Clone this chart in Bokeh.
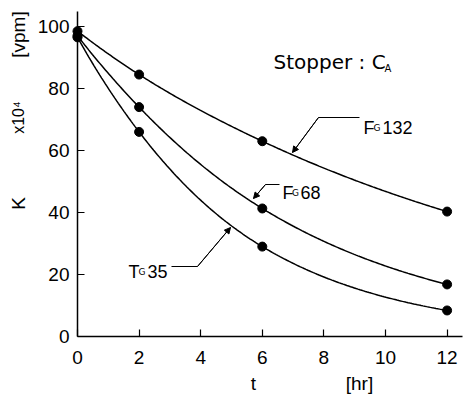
import numpy as np
from bokeh.plotting import figure
from bokeh.models import Label, Arrow, NormalHead, FixedTicker
from bokeh.embed import file_html
from bokeh.resources import INLINE

# ---- data ----
t_hr = [0, 2, 6, 12]
fg132 = [98.5, 84.5, 63.0, 40.3]
fg68 = [97.0, 74.0, 41.3, 16.8]
tg35 = [96.5, 66.0, 29.0, 8.4]
x_ticks = [0, 2, 4, 6, 8, 10, 12]
y_ticks = [0, 20, 40, 60, 80, 100]


def pchip(xk, yk, xs):
    xk = np.asarray(xk, float)
    yk = np.asarray(yk, float)
    h = np.diff(xk)
    d = np.diff(yk) / h
    n = len(xk)
    m = np.zeros(n)
    for k in range(1, n - 1):
        if d[k - 1] * d[k] > 0:
            w1 = 2 * h[k] + h[k - 1]
            w2 = h[k] + 2 * h[k - 1]
            m[k] = (w1 + w2) / (w1 / d[k - 1] + w2 / d[k])
    m[0] = ((2 * h[0] + h[1]) * d[0] - h[0] * d[1]) / (h[0] + h[1])
    if np.sign(m[0]) != np.sign(d[0]):
        m[0] = 0
    m[-1] = ((2 * h[-1] + h[-2]) * d[-1] - h[-1] * d[-2]) / (h[-1] + h[-2])
    if np.sign(m[-1]) != np.sign(d[-1]):
        m[-1] = 0
    out = np.empty_like(xs)
    for i, x in enumerate(xs):
        k = min(np.searchsorted(xk, x, side="right") - 1, n - 2)
        k = max(k, 0)
        s = (x - xk[k]) / h[k]
        h00 = 2 * s**3 - 3 * s**2 + 1
        h10 = s**3 - 2 * s**2 + s
        h01 = -2 * s**3 + 3 * s**2
        h11 = s**3 - s**2
        out[i] = h00 * yk[k] + h10 * h[k] * m[k] + h01 * yk[k + 1] + h11 * h[k] * m[k + 1]
    return out


def smooth(xk, yk):
    xs = np.linspace(xk[0], xk[-1], 200)
    ys = np.exp(pchip(xk, np.log(yk), xs))
    return xs, ys


p = figure(width=464, height=398, x_range=(-2.5, 12.565), y_range=(-20.0, 108.39),
           output_backend="svg", toolbar_location=None,
           min_border_left=0, min_border_right=0, min_border_top=0, min_border_bottom=0)
p.outline_line_color = None
p.xgrid.visible = False
p.ygrid.visible = False
p.background_fill_color = "white"
p.border_fill_color = "white"

p.xaxis.fixed_location = 0
p.yaxis.fixed_location = 0
p.xaxis.bounds = (0, 12.5)
p.yaxis.bounds = (0, 105)
p.xaxis.ticker = FixedTicker(ticks=x_ticks)
p.yaxis.ticker = FixedTicker(ticks=y_ticks)
for ax in (p.xaxis, p.yaxis):
    ax.major_tick_in = 7
    ax.major_tick_out = 0
    ax.minor_tick_line_color = None
    ax.axis_line_width = 1.5
    ax.major_tick_line_width = 1.2
    ax.axis_line_color = "black"
    ax.major_tick_line_color = "black"
    ax.major_label_text_font = "Liberation Sans"
    ax.major_label_text_font_size = "19px"
    ax.major_label_text_color = "black"
p.xaxis.major_label_standoff = 14
p.yaxis.major_label_standoff = 8

for ys in (fg132, fg68, tg35):
    sx, sy = smooth(t_hr, ys)
    p.line(sx, sy, line_color="black", line_width=1.5)
    p.scatter(t_hr, ys, size=9, color="black")

FONT = "Liberation Sans"


def d(px, py):
    # page pixel -> data coordinates (used only for annotation placement)
    return (px - 77) / 30.8, (336 - py) / 3.1


def lab(px, py, text, size, angle=0, align="left", baseline="alphabetic", font=FONT):
    x, y = d(px, py)
    p.add_layout(Label(x=x, y=y, text=text, text_font=font, text_font_size=size,
                       text_color="black", angle=angle, text_align=align,
                       text_baseline=baseline))


# axis titles
lab(18, 203, "K", "19px", angle=np.pi / 2, align="center", baseline="middle")
lab(18, 117, "x10\u2074", "16px", angle=np.pi / 2, align="center", baseline="middle")
lab(18, 34, "[vpm]", "19px", angle=np.pi / 2, align="center", baseline="middle")
lab(253, 383, "t", "19px", align="center", baseline="middle")
lab(359, 383, "[hr]", "19px", align="center", baseline="middle")

# stopper annotation
lab(273, 61.5, "Stopper : C", "20px", font="DejaVu Sans")
lab(384, 68, "A", "10px", font="DejaVu Sans")

# curve labels
lab(363, 127, "F", "18px")
lab(373, 127, "G", "9px", font="DejaVu Sans")
lab(382, 127, "132", "18px")

lab(282, 192, "F", "18px")
lab(291.5, 192, "G", "9px", font="DejaVu Sans")
lab(300, 192, "68", "18px")

lab(128, 271, "T", "18px")
lab(138, 271, "G", "9px", font="DejaVu Sans")
lab(147, 271, "35", "18px")

leaders = [
    [(359, 117), (318, 117), (292, 152)],
    [(279, 184), (265, 184), (253, 198)],
    [(171, 266), (197, 266), (230, 227)],
]
for pts in leaders:
    xs = [d(*q)[0] for q in pts]
    ys = [d(*q)[1] for q in pts]
    p.line(xs, ys, line_color="black", line_width=1.0)
    p.add_layout(Arrow(x_start=xs[-2], y_start=ys[-2], x_end=xs[-1], y_end=ys[-1],
                       line_width=1.0, line_color="black",
                       end=NormalHead(size=6, fill_color="black", line_color="black")))

open("out.html", "w").write(file_html(p, INLINE))
